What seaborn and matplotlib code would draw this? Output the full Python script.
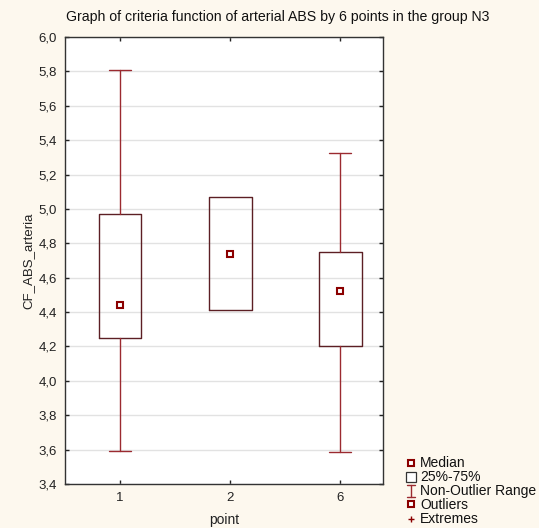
import matplotlib
matplotlib.use("Agg")
import matplotlib.pyplot as plt
import seaborn as sns
import numpy as np
from matplotlib.lines import Line2D

categories = ["1", "2", "6"]
medians = [4.44, 4.735, 4.52]
q1 = [4.25, 4.41, 4.20]
q3 = [4.97, 5.07, 4.75]
whisk_lo = [3.59, 4.41, 3.585]
whisk_hi = [5.81, 5.07, 5.325]
yticks = [3.4, 3.6, 3.8, 4.0, 4.2, 4.4, 4.6, 4.8, 5.0, 5.2, 5.4, 5.6, 5.8, 6.0]

sns.set_style("white")
plt.rcParams['font.family'] = ['Liberation Sans', 'DejaVu Sans']

bg = "#FDF8EE"
box_col = "#5C1F24"
wh_col = "#9B2A30"
med_col = "#8B0000"

W, H = 539, 528
fig = plt.figure(figsize=(5.39, 5.28), dpi=100, facecolor=bg)
ax = fig.add_axes([65/W, 1-484/H, (383-65)/W, (484-37)/H])
ax.set_facecolor("white")

stats = []
for i, c in enumerate(categories):
    stats.append(dict(label=c, med=medians[i], q1=q1[i], q3=q3[i],
                      whislo=whisk_lo[i], whishi=whisk_hi[i], fliers=[]))
pos = np.arange(len(categories))
has_whisk = [whisk_lo[i] < q1[i] or whisk_hi[i] > q3[i] for i in range(len(categories))]
sel = [i for i in range(len(categories)) if has_whisk[i]]
ax.bxp([stats[i] for i in sel], positions=pos[sel], widths=0.39, showfliers=False,
       boxprops=dict(color=box_col, linewidth=1.0),
       whiskerprops=dict(color=wh_col, linewidth=1.0),
       capprops=dict(color=wh_col, linewidth=1.0),
       medianprops=dict(linestyle="none"), capwidths=0.2, zorder=3)
nosel = [i for i in range(len(categories)) if not has_whisk[i]]
if nosel:
    ax.bxp([stats[i] for i in nosel], positions=pos[nosel], widths=0.39, showfliers=False,
           showcaps=False,
           boxprops=dict(color=box_col, linewidth=1.0),
           whiskerprops=dict(linestyle="none"),
           medianprops=dict(linestyle="none"), zorder=3)
ax.plot(pos, medians, linestyle="none", marker="s", markersize=4.5,
        markerfacecolor="white", markeredgecolor=med_col, markeredgewidth=1.5, zorder=4)

ax.set_xlim(-0.5, 2.39)
ax.set_ylim(3.4, 6.0)
ax.set_xticks(pos)
ax.set_xticklabels(categories)
ax.set_yticks(yticks)
ax.set_yticklabels([f"{v:.1f}".replace(".", ",") for v in yticks])
ax.yaxis.grid(True, color="#E2E2E2", linewidth=1.0, zorder=0)
ax.set_axisbelow(True)
ax.tick_params(direction="in", length=3, width=1, colors="#222222", labelsize=9.5,
               top=True, right=True, bottom=True, left=True, pad=6)
for s in ax.spines.values():
    s.set_color("#333333")
    s.set_linewidth(1.0)
ax.set_xlabel("point", fontsize=10, color="#222222", labelpad=6)
ax.set_ylabel("CF_ABS_arteria", fontsize=9.5, color="#222222", labelpad=3)

fig.text(278/W, 1-17/H, "Graph of criteria function of arterial ABS by 6 points in the group N3",
         ha="center", va="center", fontsize=10.2, color="#111111")

# legend
lx = 411/W
tx = 420/W
items = [(463, "Median"), (477, "25%-75%"), (491, "Non-Outlier Range"), (505, "Outliers"), (519, "Extremes")]
for yy, txt in items:
    fig.text(tx, 1-yy/H, txt, ha="left", va="center", fontsize=10, color="#111111")
fig.add_artist(Line2D([lx], [1-463/H], marker="s", markersize=4, markerfacecolor="white",
                      markeredgecolor=med_col, markeredgewidth=1.5, transform=fig.transFigure))
fig.add_artist(Line2D([lx], [1-477/H], marker="s", markersize=7, markerfacecolor="white",
                      markeredgecolor="#333333", markeredgewidth=0.9, transform=fig.transFigure))
# I-shaped whisker symbol
fig.add_artist(Line2D([lx, lx], [1-485/H, 1-497/H], color=wh_col, lw=1, transform=fig.transFigure))
fig.add_artist(Line2D([lx-4/W, lx+4/W], [1-485/H, 1-485/H], color=wh_col, lw=1, transform=fig.transFigure))
fig.add_artist(Line2D([lx-4/W, lx+4/W], [1-497/H, 1-497/H], color=wh_col, lw=1, transform=fig.transFigure))
fig.add_artist(Line2D([lx], [1-504/H], marker="s", markersize=4, markerfacecolor="white",
                      markeredgecolor=med_col, markeredgewidth=1.5, transform=fig.transFigure))
fig.add_artist(Line2D([lx], [1-519/H], marker="+", markersize=4, color=med_col,
                      markeredgewidth=1, transform=fig.transFigure))

fig.savefig("out.png", dpi=100, facecolor=bg)
